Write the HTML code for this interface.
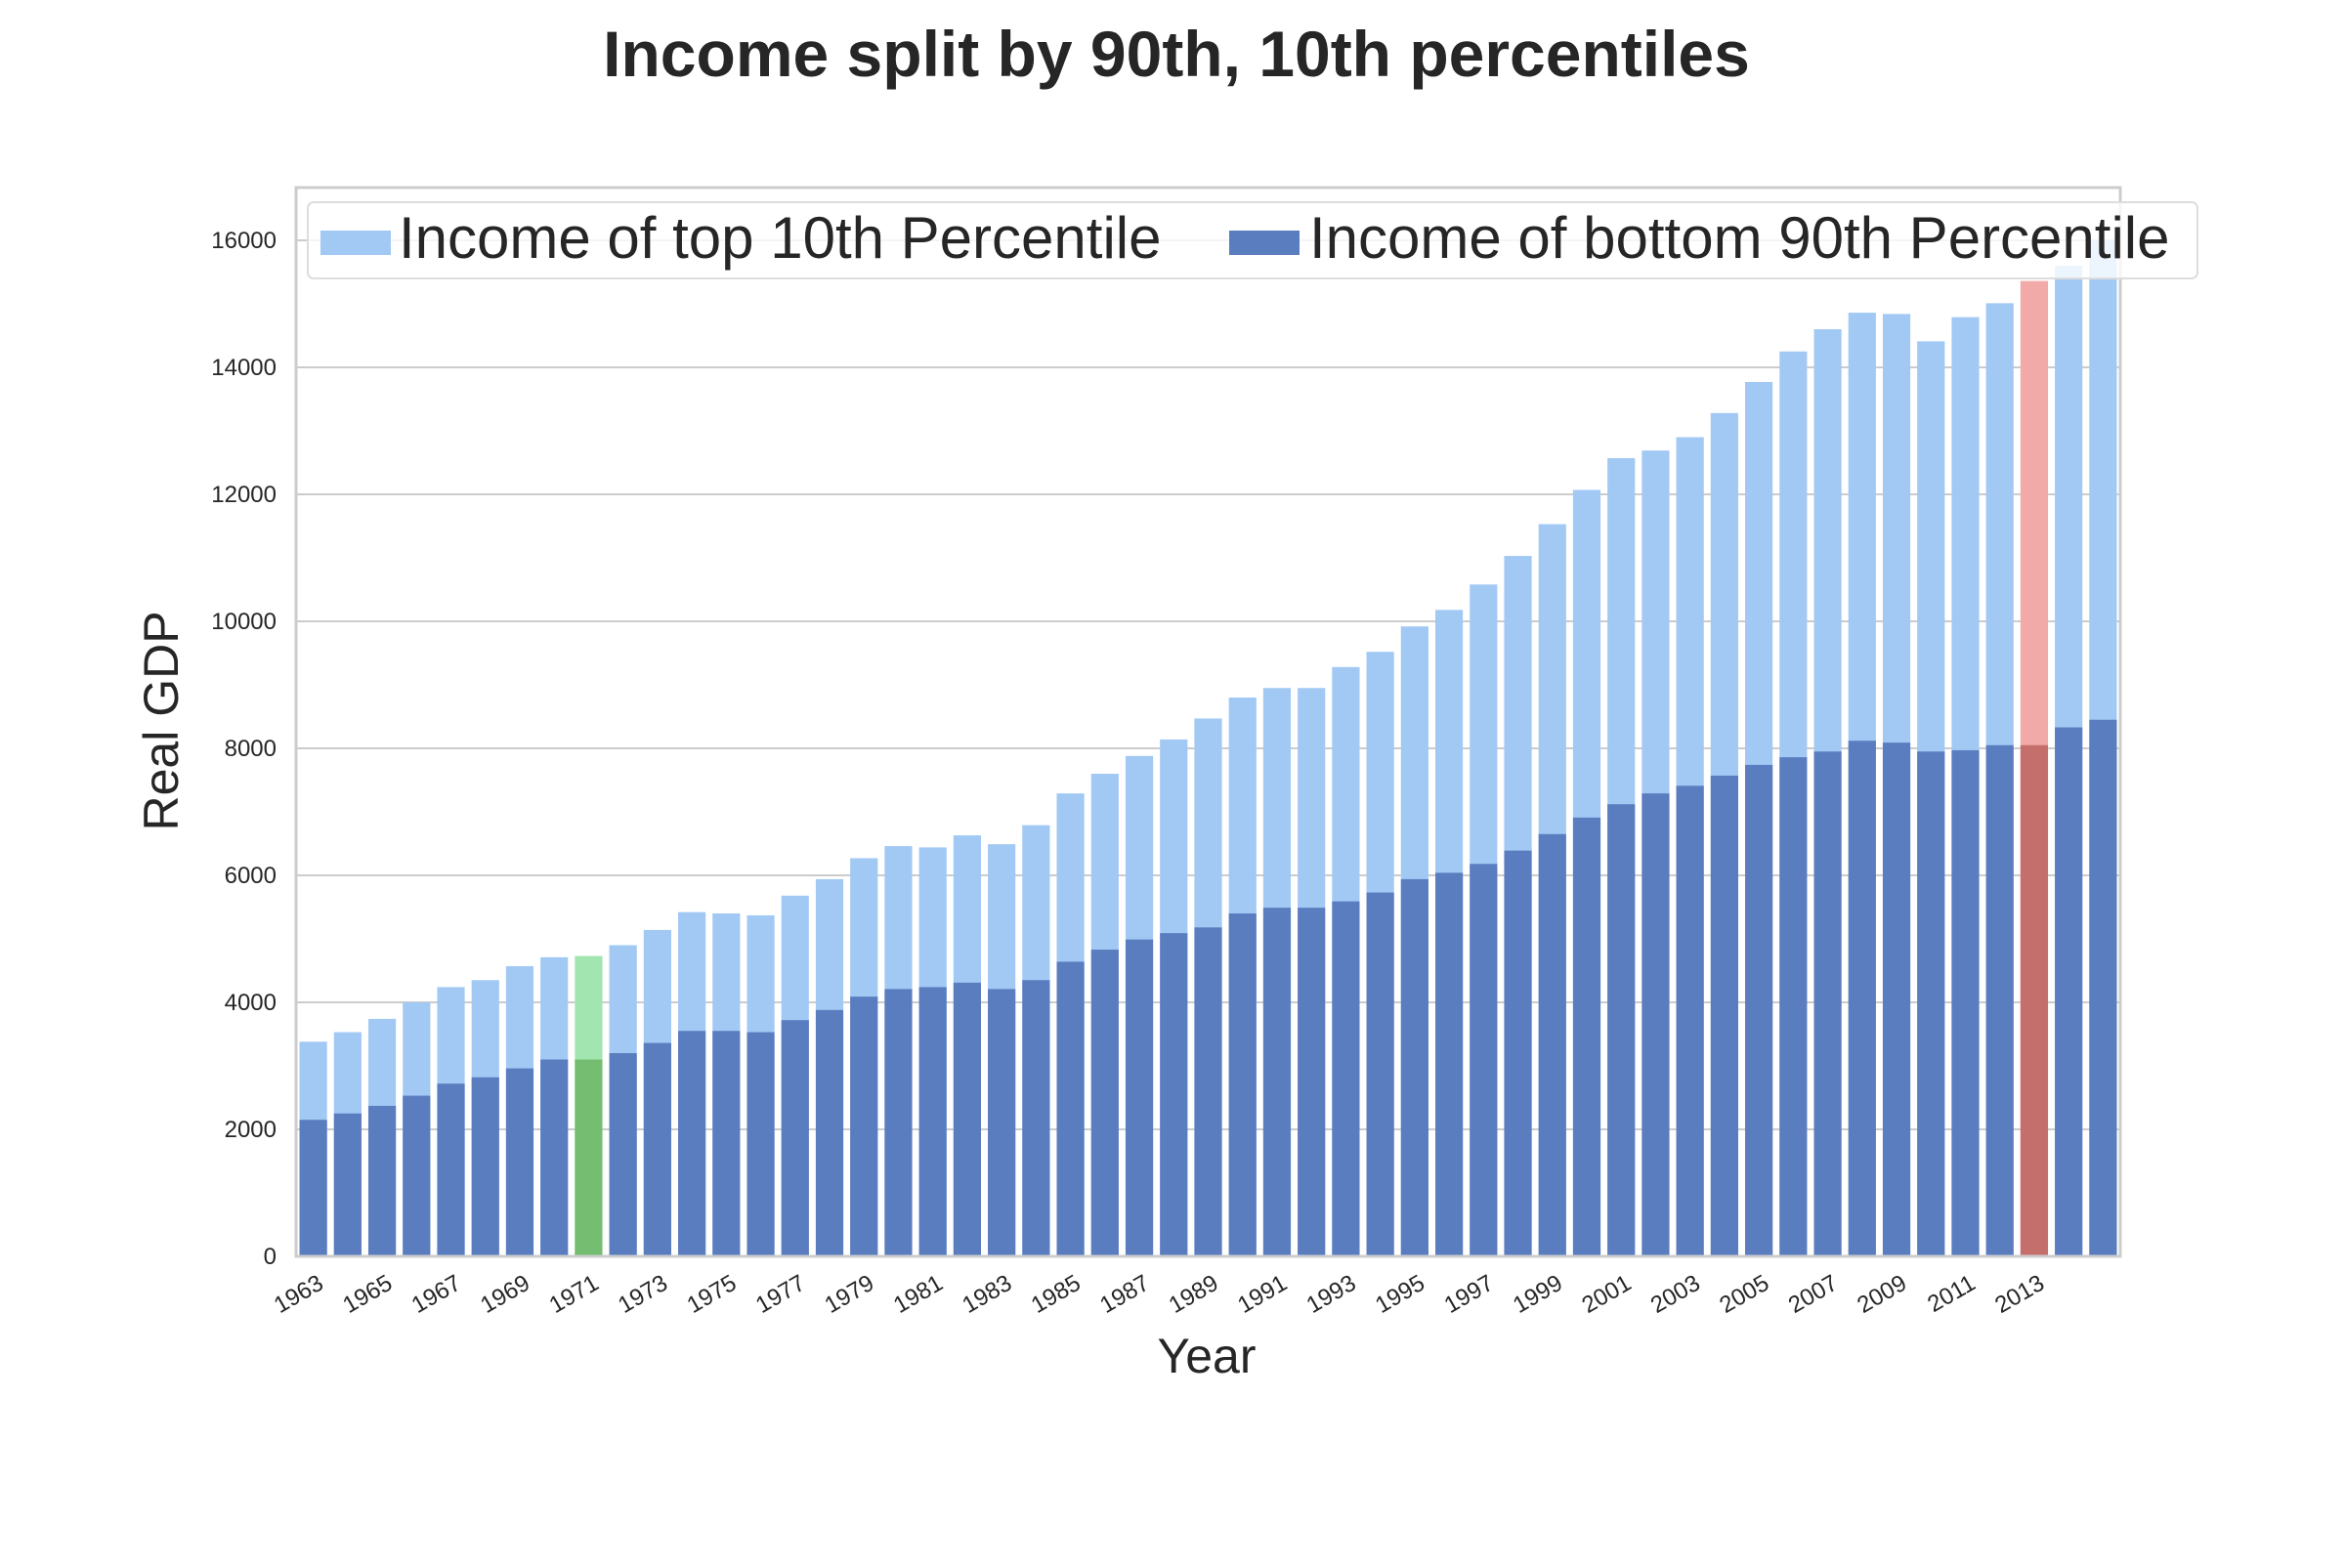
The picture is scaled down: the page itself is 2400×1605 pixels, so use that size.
<!DOCTYPE html>
<html><head><meta charset="utf-8"><style>
html,body{margin:0;padding:0;background:#fff;}
svg text{font-family:"Liberation Sans",Arial,sans-serif;fill:#262626;}
</style></head><body>
<svg id="chart" width="2400" height="1600" viewBox="0 0 2400 1600" xmlns="http://www.w3.org/2000/svg">
<rect x="0" y="0" width="2400" height="1600" fill="#fff"/>
<text x="1204" y="78" text-anchor="middle" font-size="66" font-weight="bold">Income split by 90th, 10th percentiles</text>
<g id="grid"></g>
<g id="bars"></g>
<rect x="303" y="192" width="1867" height="1094" fill="none" stroke="#cccccc" stroke-width="3"/>
<g id="yticks"></g>
<g id="xticks"></g>
<text transform="translate(182,738) rotate(-90)" text-anchor="middle" font-size="50">Real GDP</text>
<text x="1235" y="1405" text-anchor="middle" font-size="50">Year</text>
<g>
<rect x="315" y="207" width="1934" height="78" rx="6" fill="#fff" fill-opacity="0.8" stroke="#dddddd" stroke-width="2"/>
<rect x="328" y="236" width="72" height="25" fill="#a1c9f4"/>
<text x="408" y="264" font-size="60">Income of top 10th Percentile</text>
<rect x="1258" y="236" width="72" height="25" fill="#5a7dbf"/>
<text x="1340" y="264" font-size="60">Income of bottom 90th Percentile</text>
</g>
</svg>
<script>
const years = [1963,1964,1965,1966,1967,1968,1969,1970,1971,1972,1973,1974,1975,1976,1977,1978,1979,1980,1981,1982,1983,1984,1985,1986,1987,1988,1989,1990,1991,1992,1993,1994,1995,1996,1997,1998,1999,2000,2001,2002,2003,2004,2005,2006,2007,2008,2009,2010,2011,2012,2013,2014,2015];
const topValues = [3380,3530,3740,4000,4240,4350,4570,4710,4730,4900,5140,5420,5400,5370,5680,5940,6270,6460,6440,6630,6490,6790,7290,7600,7880,8140,8470,8800,8950,8950,9280,9520,9920,10180,10580,11030,11530,12070,12570,12690,12900,13280,13770,14250,14600,14860,14840,14410,14790,15010,15360,15600,16000];
const bottomValues = [2150,2250,2370,2530,2720,2820,2960,3100,3100,3200,3360,3550,3550,3530,3720,3880,4090,4210,4240,4310,4210,4350,4640,4830,4990,5090,5180,5400,5490,5490,5590,5730,5940,6040,6180,6390,6650,6910,7120,7290,7410,7570,7740,7860,7950,8120,8090,7950,7970,8050,8050,8330,8450];
const yTicks = [0,2000,4000,6000,8000,10000,12000,14000,16000];
const xTickYears = [1963,1965,1967,1969,1971,1973,1975,1977,1979,1981,1983,1985,1987,1989,1991,1993,1995,1997,1999,2001,2003,2005,2007,2009,2011,2013];
const highlightYears = {1971:['#a2e5b0','#74bd71'],2013:['#f1aaa8','#c56f6d']};

const NS='http://www.w3.org/2000/svg';
const L=303,R=2170,B=1286,T=192;
const yScale=v=>B-(v/16000)*(B-246);
const band=(R-L)/years.length;
const xCenter=i=>L+band*(i+0.5);
const bw=band*0.8;
function mk(tag,attrs,parent){const e=document.createElementNS(NS,tag);for(const k in attrs)e.setAttribute(k,attrs[k]);parent.appendChild(e);return e;}
const grid=document.getElementById('grid'),yt=document.getElementById('yticks'),xt=document.getElementById('xticks'),bars=document.getElementById('bars');
yTicks.forEach(v=>{
  const y=yScale(v);
  const ln=mk('line',{x1:L,x2:R,y1:y,y2:y,stroke:'#cccccc','stroke-width':2},grid);
  
  
  const t=mk('text',{x:L-20,y:y+8,'text-anchor':'end','font-size':24},yt);
  t.textContent=v;
  
  
});
years.forEach((yr,i)=>{
  const cx=xCenter(i);
  const cols=highlightYears[yr]||['#a1c9f4','#5a7dbf'];
  const r1=mk('rect',{x:cx-bw/2,y:yScale(topValues[i]),width:bw,height:B-yScale(topValues[i]),fill:cols[0]},bars);
  
  
  const r2=mk('rect',{x:cx-bw/2,y:yScale(bottomValues[i]),width:bw,height:B-yScale(bottomValues[i]),fill:cols[1]},bars);
  
  
  if(xTickYears.includes(yr)){
    const t=mk('text',{transform:`translate(${cx+12},${B+32}) rotate(-30)`,'text-anchor':'end','font-size':24},xt);
    t.textContent=yr;
    
    
  }
});
</script>
</body></html>
